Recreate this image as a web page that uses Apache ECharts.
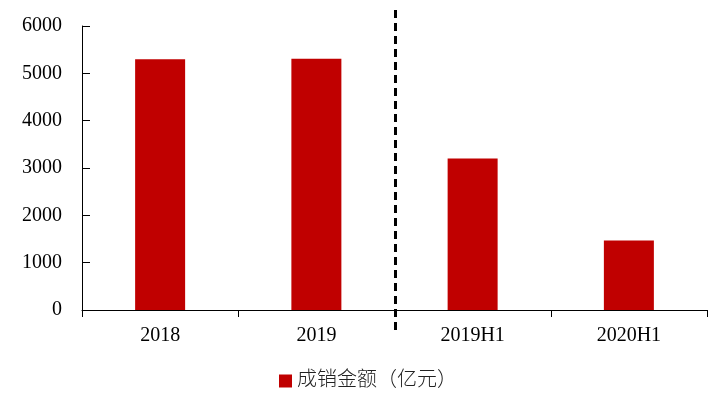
<!DOCTYPE html>
<html>
<head>
<meta charset="utf-8">
<script src="https://cdn.jsdelivr.net/npm/echarts@6/dist/echarts.min.js"></script>
<style>
  html, body { margin: 0; padding: 0; background: #fff; }
  #main { width: 718px; height: 409px; }
</style>
</head>
<body>
<div id="main"></div>
<script>
var categories = ['2018', '2019', '2019H1', '2020H1'];
var salesValues = [5300, 5310, 3200, 1470];
var seriesName = '成销金额（亿元）';
var yTicks = [0, 1000, 2000, 3000, 4000, 5000, 6000];

var chart = echarts.init(document.getElementById('main'));
var serif = "'Liberation Serif', 'Times New Roman', 'Noto Sans CJK SC', serif";

var option = {
  animation: false,
  backgroundColor: '#fff',
  grid: { left: 82, right: 11, top: 26, bottom: 99 },
  legend: {
    data: [seriesName],
    bottom: 13,
    left: 274,
    itemWidth: 13,
    itemHeight: 13,
    itemGap: 8,
    icon: 'rect',
    textStyle: { fontFamily: serif, fontSize: 20, fontWeight: 300, color: '#222' }
  },
  xAxis: {
    type: 'category',
    data: categories,
    axisLine: { lineStyle: { color: '#000', width: 1 } },
    axisTick: { show: true, length: 7, lineStyle: { color: '#000' } },
    axisLabel: { color: '#000', fontFamily: serif, fontSize: 20, margin: 16 }
  },
  yAxis: {
    type: 'value',
    min: yTicks[0],
    max: yTicks[yTicks.length - 1],
    interval: 1000,
    splitLine: { show: false },
    axisLine: { show: true, lineStyle: { color: '#000', width: 1 } },
    axisTick: { show: true, inside: true, length: 8, lineStyle: { color: '#000' } },
    axisLabel: {
      color: '#000', fontFamily: serif, fontSize: 20, margin: 20,
      formatter: function (v) { return String(v); }
    }
  },
  series: [
    {
      name: seriesName,
      type: 'bar',
      data: salesValues,
      barWidth: 50,
      itemStyle: { color: '#c00000' }
    }
  ]
};
chart.setOption(option);

// dashed separator between the annual and half-year groups
var xA = chart.convertToPixel({ xAxisIndex: 0 }, categories[1]);
var xB = chart.convertToPixel({ xAxisIndex: 0 }, categories[2]);
var yTop = chart.convertToPixel({ yAxisIndex: 0 }, yTicks[yTicks.length - 1]);
var yBot = chart.convertToPixel({ yAxisIndex: 0 }, yTicks[0]);
var xSep = Math.round((xA + xB) / 2) + 0.5;
chart.setOption({
  graphic: [{
    type: 'line',
    shape: { x1: xSep, y1: yTop - 16, x2: xSep, y2: yBot + 23 },
    style: { stroke: '#000', lineWidth: 3, lineDash: [8, 5] },
    z: 100
  }]
});
</script>
</body>
</html>
